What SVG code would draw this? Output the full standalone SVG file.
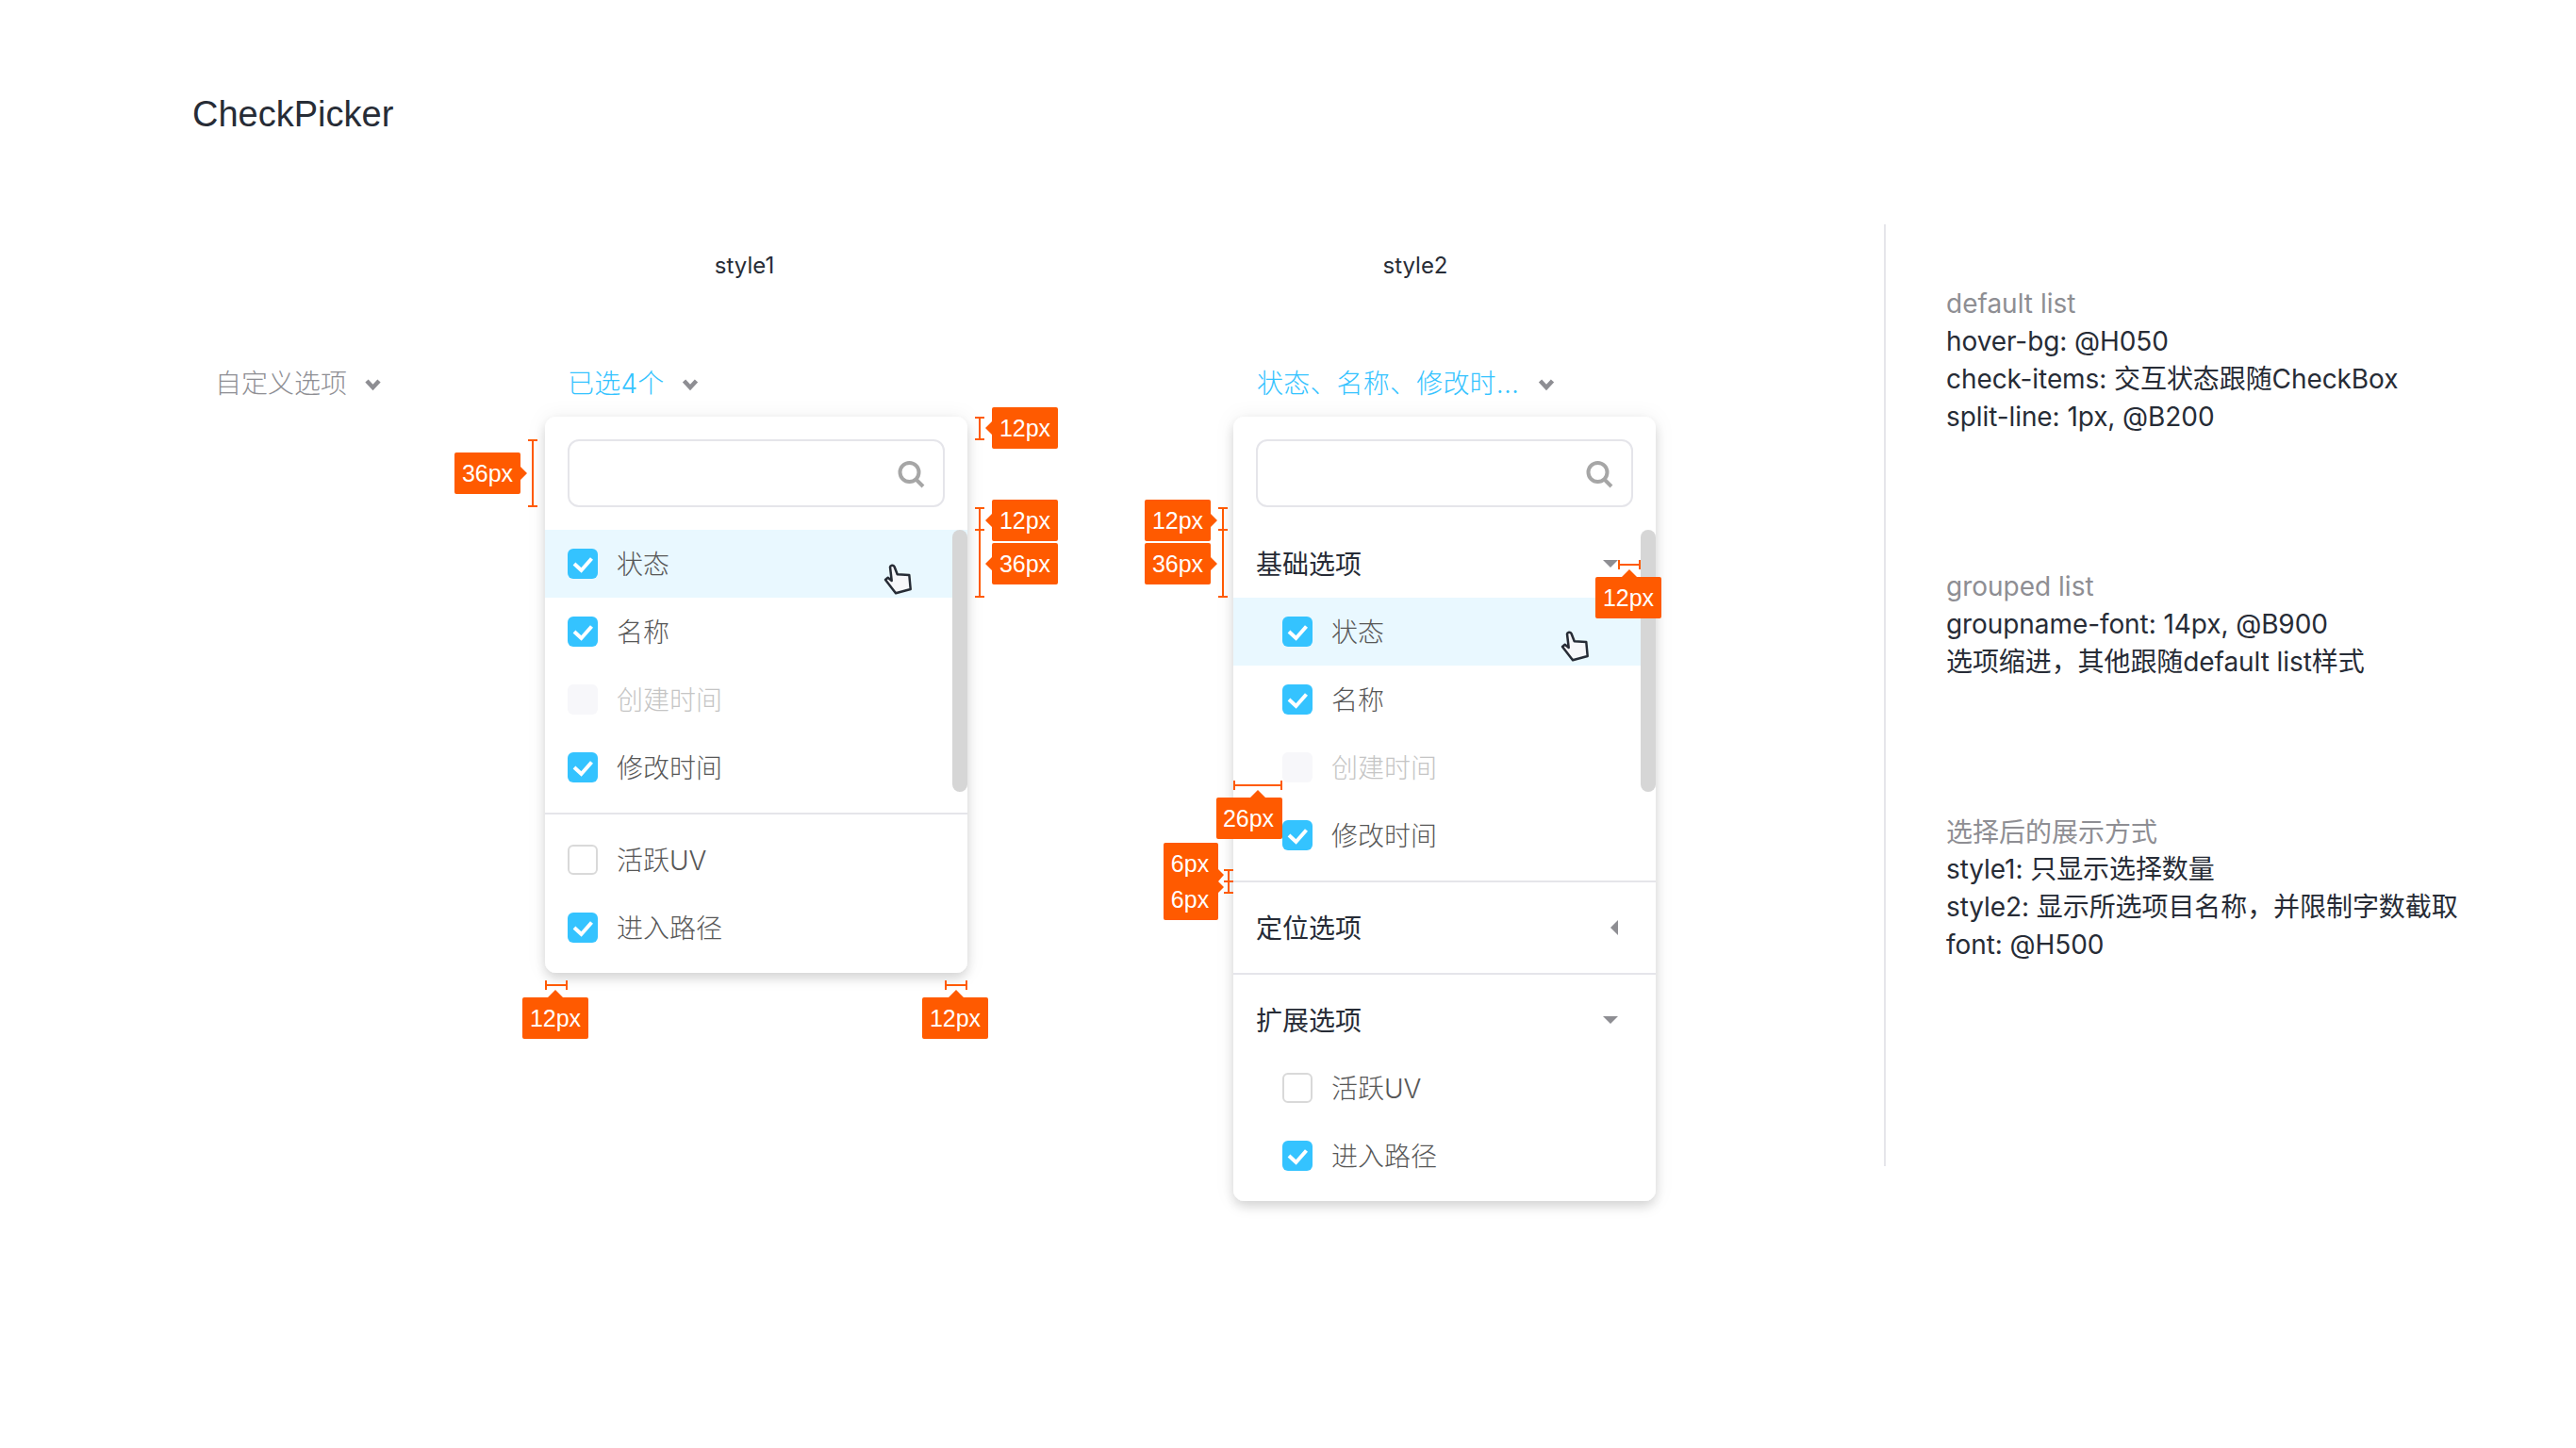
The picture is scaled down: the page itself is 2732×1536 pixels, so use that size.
<svg xmlns="http://www.w3.org/2000/svg" width="2732" height="1536" viewBox="0 0 2732 1536">
<style>
text{font-family:"Inter","Noto Sans CJK SC",sans-serif;font-size:28px;font-weight:300}
.item{fill:#575757}.dis{fill:#c5c5c5}.grp{fill:#272c36;font-weight:400}.note{fill:#272c36;font-weight:400;letter-spacing:-.08px}.head{fill:#8e8e93;font-weight:400}
.blue{fill:#34c3ff;letter-spacing:.2px}.lab{fill:#272c36;font-size:24px;font-weight:400;text-anchor:middle}
.bt{fill:#fff;font-family:"Liberation Sans",sans-serif;font-size:25px;font-weight:400;text-anchor:middle}
.bg{fill:#ff5a00}.ln{stroke:#ff5a00;stroke-width:2;fill:none}
.chev{fill:none;stroke:#8e8e93;stroke-width:4.500}
.tri{fill:#8e8e93}
.div{fill:#e5e5ea}
</style>
<defs>
<filter id="sh" x="-20%" y="-20%" width="140%" height="140%"><feDropShadow dx="0" dy="0" stdDeviation="10" flood-color="#000" flood-opacity=".06"/><feDropShadow dx="0" dy="6" stdDeviation="6" flood-color="#000" flood-opacity=".14"/></filter>
<g id="on"><rect width="32" height="32" rx="6" fill="#34c3ff"/><path d="M7 16l7.500 7L25.500 10.500" fill="none" stroke="#fff" stroke-width="4"/></g>
<g id="off"><rect x="1" y="1" width="30" height="30" rx="5" fill="#fff" stroke="#d9d9d9" stroke-width="2"/></g>
<g id="dis"><rect width="32" height="32" rx="6" fill="#f7f7fa"/></g>
<g id="search"><circle cx="12.500" cy="13" r="10" fill="none" stroke="#a6a6a6" stroke-width="4"/><path d="M19.500 20.500L27 28" stroke="#a6a6a6" stroke-width="4" fill="none"/></g>
<path id="chevron" d="M-6.500 -4L0 3L6.500 -4" class="chev"/>
<g id="hand"><path d="M5 3.500c.3-2 3.400-2.600 4.500-.5L12.700 11.300 25.300 12 26.700 27 11 31.300 0 17 2.700 14.700 6.700 18z" fill="#f7f7fa" stroke="#272c36" stroke-width="2.500" stroke-linejoin="round"/></g>
</defs>
<rect width="2732" height="1536" fill="#fff"/>
<g id="title"><text x="204" y="134" fill="#272c36" style="font-size:38px;font-weight:400;font-family:'Liberation Sans',sans-serif">CheckPicker</text></g>
<g id="labels"><text class="lab" x="789.500" y="290">style1</text><text class="lab" x="1501" y="290">style2</text></g>
<g id="trigger-default"><text class="head" x="228" y="417" style="font-weight:300">自定义选项</text><use href="#chevron" x="395.500" y="408"/></g>
<g id="trigger-style1"><text class="blue" x="602" y="417">已选4个</text><use href="#chevron" x="732" y="408"/></g>
<g id="trigger-style2"><text class="blue" x="1333" y="417">状态、名称、修改时...</text><use href="#chevron" x="1640" y="408"/></g>

<g id="panel1">
<rect x="578" y="442" width="448" height="590" rx="12" fill="#fff" filter="url(#sh)"/>
<rect x="603" y="467" width="398" height="70" rx="11" fill="#fff" stroke="#e5e5ea" stroke-width="2"/>
<use href="#search" x="952" y="488"/>
<rect x="578" y="562" width="448" height="72" fill="#e9f8ff"/>
<rect x="1010" y="562" width="16" height="278" rx="8" fill="#d6d6d6"/>
<rect class="div" x="578" y="862" width="448" height="2"/>
<use href="#on" x="602" y="582"/><text class="item" x="654" y="609">状态</text>
<use href="#on" x="602" y="654"/><text class="item" x="654" y="681">名称</text>
<use href="#dis" x="602" y="726"/><text class="dis" x="654" y="753">创建时间</text>
<use href="#on" x="602" y="798"/><text class="item" x="654" y="825">修改时间</text>
<use href="#off" x="602" y="896"/><text class="item" x="654" y="923">活跃UV</text>
<use href="#on" x="602" y="968"/><text class="item" x="654" y="995">进入路径</text>
<use href="#hand" x="939" y="598"/>
</g>

<g id="panel2">
<rect x="1308" y="442" width="448" height="832" rx="12" fill="#fff" filter="url(#sh)"/>
<rect x="1333" y="467" width="398" height="70" rx="11" fill="#fff" stroke="#e5e5ea" stroke-width="2"/>
<use href="#search" x="1682" y="488"/>
<rect x="1308" y="634" width="448" height="72" fill="#e9f8ff"/>
<rect x="1740" y="562" width="16" height="278" rx="8" fill="#d6d6d6"/>
<rect class="div" x="1308" y="934" width="448" height="2"/>
<rect class="div" x="1308" y="1032" width="448" height="2"/>
<text class="grp" x="1332" y="609">基础选项</text>
<path class="tri" d="M1700 594h16l-8 8z"/>
<use href="#on" x="1360" y="654"/><text class="item" x="1412" y="681">状态</text>
<use href="#on" x="1360" y="726"/><text class="item" x="1412" y="753">名称</text>
<use href="#dis" x="1360" y="798"/><text class="dis" x="1412" y="825">创建时间</text>
<use href="#on" x="1360" y="870"/><text class="item" x="1412" y="897">修改时间</text>
<text class="grp" x="1332" y="995">定位选项</text>
<path class="tri" d="M1716 976v16l-8-8z"/>
<text class="grp" x="1332" y="1093">扩展选项</text>
<path class="tri" d="M1700 1078h16l-8 8z"/>
<use href="#off" x="1360" y="1138"/><text class="item" x="1412" y="1165">活跃UV</text>
<use href="#on" x="1360" y="1210"/><text class="item" x="1412" y="1237">进入路径</text>
<use href="#hand" x="1657" y="669"/>
</g>

<g id="connectors">
<path class="ln" d="M560 467h10M565 467v70M560 537h10"/>
<path class="ln" d="M1034 443h10M1039 443v23M1034 466h10"/>
<path class="ln" d="M1034 539h10M1039 539v23M1034 562h10M1039 562v71M1034 633h10"/>
<path class="ln" d="M579 1040v10M579 1045h22M601 1040v10"/>
<path class="ln" d="M1003 1040v10M1003 1045h22M1025 1040v10"/>
<path class="ln" d="M1292 539h10M1297 539v23M1292 562h10M1297 562v71M1292 633h10"/>
<path class="ln" d="M1717 594v10M1717 599h22M1739 594v10"/>
<path class="ln" d="M1309 828v10M1309 833h50M1359 828v10"/>
<path class="ln" d="M1298 923h10M1303 923v12M1298 935h10M1303 935v12M1298 947h10"/>
</g>

<g id="badge-36a"><path class="bg" d="M484 480h66a2 2 0 0 1 2 2v13l7 7-7 7v13a2 2 0 0 1-2 2h-66a2 2 0 0 1-2-2v-40a2 2 0 0 1 2-2z"/><text class="bt" x="517" y="511">36px</text></g>
<g id="badge-12a"><path class="bg" d="M1054 432h66a2 2 0 0 1 2 2v40a2 2 0 0 1-2 2h-66a2 2 0 0 1-2-2v-13l-7-7 7-7v-13a2 2 0 0 1 2-2z"/><text class="bt" x="1087" y="463">12px</text></g>
<g id="badge-12b"><path class="bg" d="M1054 530h66a2 2 0 0 1 2 2v40a2 2 0 0 1-2 2h-66a2 2 0 0 1-2-2v-13l-7-7 7-7v-13a2 2 0 0 1 2-2z"/><text class="bt" x="1087" y="561">12px</text></g>
<g id="badge-36b"><path class="bg" d="M1054 576h66a2 2 0 0 1 2 2v40a2 2 0 0 1-2 2h-66a2 2 0 0 1-2-2v-13l-7-7 7-7v-13a2 2 0 0 1 2-2z"/><text class="bt" x="1087" y="607">36px</text></g>
<g id="badge-12c"><path class="bg" d="M556 1058h25l8-8 8 8h25a2 2 0 0 1 2 2v40a2 2 0 0 1-2 2h-66a2 2 0 0 1-2-2v-40a2 2 0 0 1 2-2z"/><text class="bt" x="589" y="1089">12px</text></g>
<g id="badge-12d"><path class="bg" d="M980 1058h26l8-8 8 8h24a2 2 0 0 1 2 2v40a2 2 0 0 1-2 2h-66a2 2 0 0 1-2-2v-40a2 2 0 0 1 2-2z"/><text class="bt" x="1013" y="1089">12px</text></g>
<g id="badge-12e"><path class="bg" d="M1216 530h66a2 2 0 0 1 2 2v13l7 7-7 7v13a2 2 0 0 1-2 2h-66a2 2 0 0 1-2-2v-40a2 2 0 0 1 2-2z"/><text class="bt" x="1249" y="561">12px</text></g>
<g id="badge-36c"><path class="bg" d="M1216 576h66a2 2 0 0 1 2 2v13l7 7-7 7v13a2 2 0 0 1-2 2h-66a2 2 0 0 1-2-2v-40a2 2 0 0 1 2-2z"/><text class="bt" x="1249" y="607">36px</text></g>
<g id="badge-12f"><path class="bg" d="M1694 612h26l8-8 8 8h24a2 2 0 0 1 2 2v40a2 2 0 0 1-2 2h-66a2 2 0 0 1-2-2v-40a2 2 0 0 1 2-2z"/><text class="bt" x="1727" y="643">12px</text></g>
<g id="badge-26"><path class="bg" d="M1292 846h34l8-8 8 8h16a2 2 0 0 1 2 2v40a2 2 0 0 1-2 2h-66a2 2 0 0 1-2-2v-40a2 2 0 0 1 2-2z"/><text class="bt" x="1324" y="877">26px</text></g>
<g id="badge-6"><path class="bg" d="M1236 894h54a2 2 0 0 1 2 2v26l6 6-6 7 6 6-6 6v27a2 2 0 0 1-2 2h-54a2 2 0 0 1-2-2v-78a2 2 0 0 1 2-2z"/><text class="bt" x="1262" y="925">6px</text><text class="bt" x="1262" y="963">6px</text></g>

<g id="separator"><rect x="1998" y="238" width="2" height="999" fill="#e5e5ea"/></g>
<g id="notes">
<text class="head" x="2064" y="332">default list</text>
<text class="note" x="2064" y="372">hover-bg: @H050</text>
<text class="note" x="2064" y="412">check-items: 交互状态跟随CheckBox</text>
<text class="note" x="2064" y="452">split-line: 1px, @B200</text>
<text class="head" x="2064" y="632">grouped list</text>
<text class="note" x="2064" y="672">groupname-font: 14px, @B900</text>
<text class="note" x="2064" y="712">选项缩进，其他跟随default list样式</text>
<text class="head" x="2064" y="893">选择后的展示方式</text>
<text class="note" x="2064" y="932">style1: 只显示选择数量</text>
<text class="note" x="2064" y="972">style2: 显示所选项目名称，并限制字数截取</text>
<text class="note" x="2064" y="1012">font: @H500</text>
</g>
</svg>
